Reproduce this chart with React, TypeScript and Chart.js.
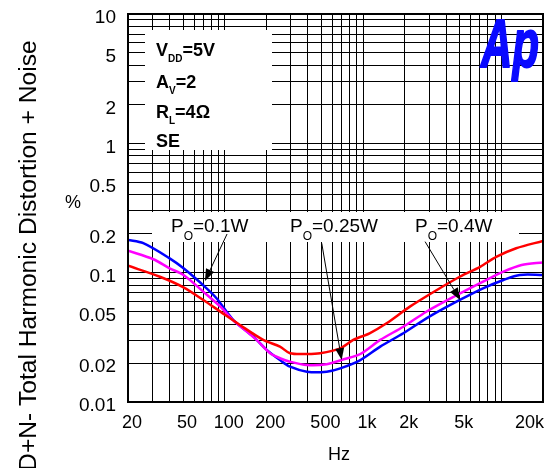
import { useEffect, useRef } from "react";
import { Chart, registerables } from "chart.js";

Chart.register(...registerables);

// ---- Data ----
const FREQ_01W = [20, 25.8, 40, 50.4, 74, 87.3, 115.5, 161, 202, 251, 297, 393, 546, 685, 956, 1332, 1955, 3016, 5007, 7372, 10350, 13590, 20000];
const THD_01W = [0.179, 0.169, 0.129, 0.108, 0.0757, 0.0634, 0.043, 0.032, 0.0252, 0.0211, 0.01875, 0.01715, 0.01715, 0.0182, 0.0211, 0.0268, 0.034, 0.0457, 0.0615, 0.0757, 0.0878, 0.096, 0.096];

const FREQ_025W = [20, 30.5, 40, 50.4, 70, 93, 115, 170, 213, 251, 297, 393, 546, 726, 956, 1332, 1955, 2870, 4790, 7372, 10350, 14000, 20000];
const THD_025W = [0.148, 0.127, 0.108, 0.096, 0.0713, 0.0546, 0.043, 0.0302, 0.0238, 0.0218, 0.0205, 0.0193, 0.0196, 0.0214, 0.0235, 0.0302, 0.0382, 0.0499, 0.0672, 0.0852, 0.1018, 0.1147, 0.12];

const FREQ_04W = [20, 34, 50.4, 70, 93, 129, 190, 251, 297, 393, 490, 685, 850, 1115, 1480, 2180, 3420, 5007, 7020, 9260, 12800, 20000];
const THD_04W = [0.113, 0.093, 0.077, 0.0615, 0.05, 0.0394, 0.0302, 0.0268, 0.0238, 0.0235, 0.0238, 0.026, 0.0302, 0.034, 0.0406, 0.0546, 0.0735, 0.093, 0.111, 0.133, 0.1545, 0.176];

const X_TICK_VALUES = [20, 50, 100, 200, 500, 1000, 2000, 5000, 20000];
const X_TICK_LABELS = ["20", "50", "100", "200", "500", "1k", "2k", "5k", "20k"];
const Y_TICK_VALUES = [10, 5, 2, 1, 0.5, 0.2, 0.1, 0.05, 0.02, 0.01];
const Y_TICK_LABELS = ["10", "5", "2", "1", "0.5", "0.2", "0.1", "0.05", "0.02", "0.01"];

const X_MIN = 20;
const X_MAX = 20000;
const Y_MIN = 0.01;
const Y_MAX = 10;

// Arrow annotations in data coordinates: [fromHz, from%, toHz, to%]
const ARROW_01W = [104, 0.199, 72, 0.0863];
const ARROW_025W = [503, 0.1688, 701, 0.0211];
const ARROW_04W = [2810, 0.1737, 5032, 0.0615];

const FONT = "'Liberation Sans', Arial, Helvetica, sans-serif";

function logGrid(min: number, max: number) {
  const out: { value: number }[] = [];
  let exp = Math.floor(Math.log10(min));
  while (Math.pow(10, exp) <= max) {
    for (let s = 1; s <= 9; s++) {
      const v = +(s * Math.pow(10, exp)).toPrecision(6);
      if (v >= min - 1e-12 && v <= max + 1e-9) out.push({ value: v });
    }
    exp++;
  }
  return out;
}

function drawArrow(ctx: CanvasRenderingContext2D, x1: number, y1: number, x2: number, y2: number) {
  const ang = Math.atan2(y2 - y1, x2 - x1);
  const len = 12;
  const hw = 4.5;
  const bx = x2 - len * Math.cos(ang);
  const by = y2 - len * Math.sin(ang);
  ctx.beginPath();
  ctx.moveTo(x1, y1);
  ctx.lineTo(bx, by);
  ctx.strokeStyle = "#000";
  ctx.lineWidth = 1;
  ctx.stroke();
  ctx.beginPath();
  ctx.moveTo(x2, y2);
  ctx.lineTo(bx + hw * Math.sin(ang), by - hw * Math.cos(ang));
  ctx.lineTo(bx - hw * Math.sin(ang), by + hw * Math.cos(ang));
  ctx.closePath();
  ctx.fillStyle = "#000";
  ctx.fill();
}

function subText(ctx: CanvasRenderingContext2D, x: number, y: number, main: string, sub: string, rest: string, mainFont: string, subFont: string, subDy: number) {
  ctx.font = mainFont;
  ctx.fillText(main, x, y);
  let cx = x + ctx.measureText(main).width;
  ctx.font = subFont;
  ctx.fillText(sub, cx, y + subDy);
  cx += ctx.measureText(sub).width;
  ctx.font = mainFont;
  ctx.fillText(rest, cx, y);
}

const decorPlugin = {
  id: "decor",
  beforeDatasetsDraw(chart: any) {
    const { ctx } = chart;
    ctx.save();
    ctx.fillStyle = "#fff";
    ctx.fillRect(145, 30, 127, 120);
    ctx.fillRect(152, 212, 367, 30);
    ctx.restore();
  },
  afterDatasetsDraw(chart: any) {
    const { ctx, chartArea: a, scales } = chart;
    const xs = scales.x;
    const ys = scales.y;
    ctx.save();
    // frame
    ctx.strokeStyle = "#000";
    ctx.lineWidth = 2;
    ctx.strokeRect(a.left, a.top, a.right - a.left, a.bottom - a.top);

    // arrows
    for (const ar of [ARROW_01W, ARROW_025W, ARROW_04W]) {
      drawArrow(ctx, xs.getPixelForValue(ar[0]), ys.getPixelForValue(ar[1]), xs.getPixelForValue(ar[2]), ys.getPixelForValue(ar[3]));
    }

    ctx.fillStyle = "#000";
    ctx.textAlign = "left";
    ctx.textBaseline = "alphabetic";
    // conditions box
    const bf = `bold 18px ${FONT}`;
    const bs = `bold 10px ${FONT}`;
    subText(ctx, 156, 56, "V", "DD", "=5V", bf, bs, 6);
    subText(ctx, 156, 88, "A", "V", "=2", bf, bs, 6);
    subText(ctx, 156, 118, "R", "L", "=4\u03A9", bf, bs, 6);
    ctx.font = bf;
    ctx.fillText("SE", 156, 147);

    // power labels
    const pf = `19px ${FONT}`;
    const ps = `12px ${FONT}`;
    subText(ctx, 171, 232, "P", "O", "=0.1W", pf, ps, 8);
    subText(ctx, 290, 232, "P", "O", "=0.25W", pf, ps, 8);
    subText(ctx, 415, 232, "P", "O", "=0.4W", pf, ps, 8);

    // Ap logo
    ctx.save();
    ctx.fillStyle = "#0a0aff";
    ctx.strokeStyle = "#0a0aff";
    ctx.lineWidth = 2;
    ctx.lineJoin = "round";
    ctx.font = `bold italic 68px ${FONT}`;
    ctx.scale(0.64, 1);
    ctx.fillText("Ap", 481 / 0.64, 67);
    ctx.strokeText("Ap", 481 / 0.64, 67);
    ctx.restore();
    ctx.restore();
  },
  afterDraw(chart: any) {
    const { ctx, chartArea: a, scales } = chart;
    const xs = scales.x;
    const ys = scales.y;
    ctx.save();
    ctx.fillStyle = "#000";
    // x tick labels
    ctx.font = `18px ${FONT}`;
    ctx.textBaseline = "alphabetic";
    X_TICK_VALUES.forEach((v, i) => {
      const px = xs.getPixelForValue(v);
      if (i === X_TICK_VALUES.length - 1) {
        ctx.textAlign = "right";
        ctx.fillText(X_TICK_LABELS[i], px + 1, a.bottom + 26);
      } else {
        ctx.textAlign = "center";
        ctx.fillText(X_TICK_LABELS[i], px + 4, a.bottom + 26);
      }
    });
    // y tick labels
    ctx.font = `19px ${FONT}`;
    ctx.textAlign = "right";
    ctx.textBaseline = "middle";
    Y_TICK_VALUES.forEach((v, i) => {
      const py = ys.getPixelForValue(v);
      ctx.fillText(Y_TICK_LABELS[i], 116, py + 4);
    });
    // unit labels
    ctx.textBaseline = "alphabetic";
    ctx.textAlign = "left";
    ctx.font = `18px ${FONT}`;
    ctx.fillText("%", 65, 208);
    ctx.textAlign = "center";
    ctx.fillText("Hz", 339, 460);
    // y title
    ctx.save();
    ctx.translate(36, 272);
    ctx.rotate(-Math.PI / 2);
    ctx.font = `24.6px ${FONT}`;
    ctx.textAlign = "center";
    ctx.fillText("THD+N- Total Harmonic Distortion + Noise", 0, 0);
    ctx.restore();
    ctx.restore();
  },
};

function toPoints(xs: number[], ys: number[]) {
  return xs.map((x, i) => ({ x, y: ys[i] }));
}

export default function App() {
  const ref = useRef<HTMLCanvasElement | null>(null);
  useEffect(() => {
    if (!ref.current) return;
    const chart = new Chart(ref.current, {
      type: "line",
      data: {
        datasets: [
          { label: "PO=0.4W", data: toPoints(FREQ_04W, THD_04W), borderColor: "#ff0000", borderWidth: 2.5, pointRadius: 0, tension: 0.3, fill: false },
          { label: "PO=0.25W", data: toPoints(FREQ_025W, THD_025W), borderColor: "#ff00ff", borderWidth: 2.5, pointRadius: 0, tension: 0.3, fill: false },
          { label: "PO=0.1W", data: toPoints(FREQ_01W, THD_01W), borderColor: "#0000ff", borderWidth: 2.5, pointRadius: 0, tension: 0.3, fill: false },
        ],
      },
      options: {
        responsive: false,
        maintainAspectRatio: false,
        animation: false,
        events: [],
        layout: { padding: { left: 0, top: 14, right: 7, bottom: 0 } },
        plugins: { legend: { display: false }, tooltip: { enabled: false }, title: { display: false } },
        scales: {
          x: {
            type: "logarithmic",
            min: X_MIN,
            max: X_MAX,
            afterBuildTicks: (s: any) => { s.ticks = logGrid(X_MIN, X_MAX); },
            afterFit: (s: any) => { s.height = 66; },
            ticks: { display: false, autoSkip: false },
            grid: { color: "#000", lineWidth: 1, drawTicks: false },
            border: { display: false },
          },
          y: {
            type: "logarithmic",
            min: Y_MIN,
            max: Y_MAX,
            afterBuildTicks: (s: any) => { s.ticks = logGrid(Y_MIN, Y_MAX); },
            afterFit: (s: any) => { s.width = 128; },
            ticks: { display: false, autoSkip: false },
            grid: { color: "#000", lineWidth: 1, drawTicks: false },
            border: { display: false },
          },
        },
      },
      plugins: [decorPlugin],
    } as any);
    return () => chart.destroy();
  }, []);
  return (
    <div style={{ position: "absolute", left: 0, top: 0, width: 550, height: 468, background: "#fff" }}>
      <canvas ref={ref} width={550} height={468} style={{ display: "block" }} />
    </div>
  );
}
